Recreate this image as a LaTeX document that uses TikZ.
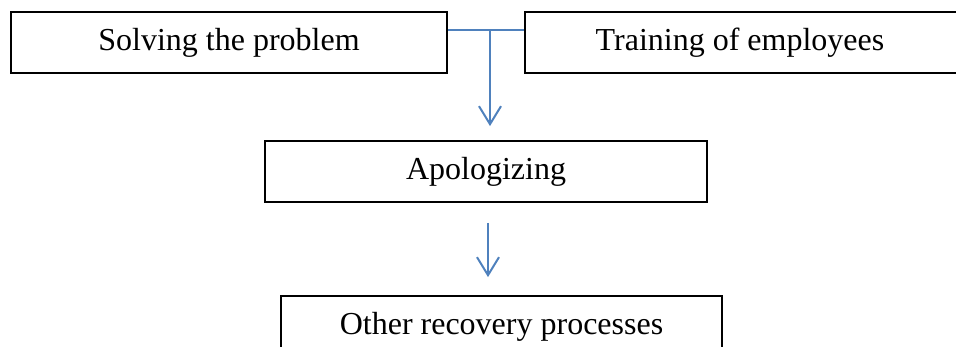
\documentclass[tikz,border=0pt]{standalone}
\usepackage{fontspec}
\setmainfont{Liberation Serif}
\usetikzlibrary{arrows.meta,calc}
\definecolor{arrblue}{RGB}{79,129,189}
\tikzset{
  boxnode/.style={draw=black, line width=1.8pt, minimum height=61pt, inner sep=0pt,
    font=\fontsize{32}{38}\selectfont},
  link/.style={draw=arrblue, line width=2pt},
  arr/.style={link, -{Straight Barb[length=18pt,width=22pt,line width=2pt]}}
}
\begin{document}
\begin{tikzpicture}[x=1pt,y=-1pt]
\useasboundingbox (0,0) rectangle (956,347);
\clip (0,0) rectangle (956,347);
\node[boxnode, minimum width=436pt] (solve) at (229,42.5) {Solving the problem};
\node[boxnode, minimum width=445pt] (train) at (747.5,42.5) {\hspace*{-15pt}Training of employees};
\node[boxnode, minimum width=442pt] (apo) at (486,171.5) {Apologizing};
\node[boxnode, minimum width=441pt] (other) at (501.5,326.5) {Other recovery processes};
\coordinate (join) at (490,30);
\coordinate (mid) at (488,200);
\draw[link] ([yshift=12.5pt]solve.east) -- ([yshift=12.5pt]train.west);
\draw[arr, shorten >=14pt] (join) -- (join |- apo.north);
\draw[arr, shorten <=20pt, shorten >=18pt] (mid |- apo.south) -- (mid |- other.north);
\end{tikzpicture}
\end{document}
